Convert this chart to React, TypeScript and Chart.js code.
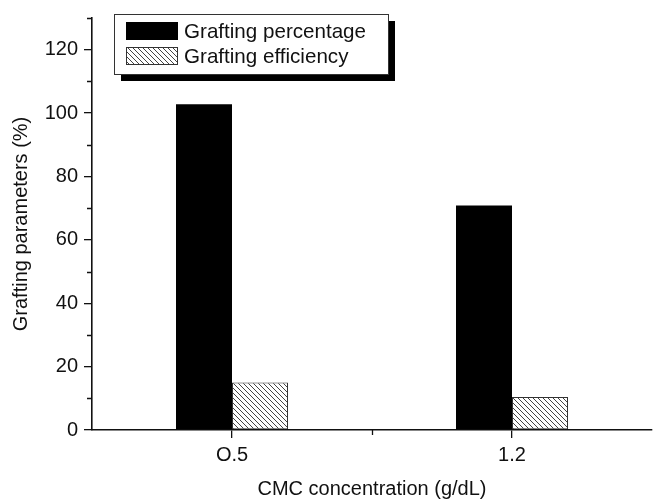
import React, { useEffect, useRef } from 'react';
import { Chart, registerables } from 'chart.js';

Chart.register(...registerables);

const categories = ['O.5', '1.2'];
const seriesLabels = ['Grafting percentage', 'Grafting efficiency'];
const graftingPercentage = [102.8, 70.8];
const graftingEfficiency = [15.0, 10.4];
const yMajorTicks = [0, 20, 40, 60, 80, 100, 120];
const yMinorTicks = [10, 30, 50, 70, 90, 110, 130];
const xTitle = 'CMC concentration (g/dL)';
const yTitle = 'Grafting parameters (%)';

const FONT = "'Liberation Sans', Arial, sans-serif";
const INK = '#111';

function makeHatch(): CanvasPattern | string {
  const c = document.createElement('canvas');
  const s = 5;
  c.width = s;
  c.height = s;
  const g = c.getContext('2d');
  if (!g) return '#888';
  g.fillStyle = '#fff';
  g.fillRect(0, 0, s, s);
  g.strokeStyle = '#444';
  g.lineWidth = 1;
  g.beginPath();
  g.moveTo(-1, -1);
  g.lineTo(s + 1, s + 1);
  g.moveTo(-1, s - 1);
  g.lineTo(1, s + 1);
  g.moveTo(s - 1, -1);
  g.lineTo(s + 1, 1);
  g.stroke();
  const p = g.createPattern(c, 'repeat');
  return p || '#888';
}

export default function App() {
  const ref = useRef<HTMLCanvasElement | null>(null);

  useEffect(() => {
    const canvas = ref.current;
    if (!canvas) return;
    const hatch = makeHatch();

    const bgPlugin = {
      id: 'bg',
      beforeDraw(chart: any) {
        const ctx = chart.ctx;
        ctx.save();
        ctx.fillStyle = '#fff';
        ctx.fillRect(0, 0, chart.width, chart.height);
        ctx.restore();
      },
    };

    const extrasPlugin = {
      id: 'extras',
      afterDraw(chart: any) {
        const ctx = chart.ctx;
        const ys = chart.scales.y;
        const xs = chart.scales.x;
        const area = chart.chartArea;
        ctx.save();
        ctx.strokeStyle = INK;
        ctx.lineWidth = 1.3;
        // minor y ticks
        ctx.beginPath();
        yMinorTicks.forEach((v) => {
          const y = Math.round(ys.getPixelForValue(v)) + 0.5;
          ctx.moveTo(area.left - 5, y);
          ctx.lineTo(area.left, y);
        });
        // minor x tick between categories
        for (let i = 0; i < categories.length - 1; i++) {
          const x = (xs.getPixelForValue(i) + xs.getPixelForValue(i + 1)) / 2;
          ctx.moveTo(Math.round(x) + 0.5, area.bottom);
          ctx.lineTo(Math.round(x) + 0.5, area.bottom + 5);
        }
        ctx.stroke();

        // legend
        const bx = 114, by = 14, bw = 274, bh = 60, sh = 7;
        ctx.fillStyle = '#000';
        ctx.fillRect(bx + sh, by + sh, bw, bh);
        ctx.fillStyle = '#fff';
        ctx.fillRect(bx, by, bw, bh);
        ctx.strokeStyle = '#333';
        ctx.lineWidth = 1;
        ctx.strokeRect(bx + 0.5, by + 0.5, bw, bh);

        const ds = chart.data.datasets;
        const rows = [22, 47];
        ds.forEach((d: any, i: number) => {
          const sy = rows[i];
          ctx.fillStyle = d.backgroundColor;
          ctx.fillRect(126, sy, 52, 18);
          if (d.borderWidth) {
            ctx.strokeStyle = '#333';
            ctx.lineWidth = 1;
            ctx.strokeRect(126.5, sy + 0.5, 51, 17);
          }
          ctx.fillStyle = INK;
          ctx.font = `20.6px ${FONT}`;
          ctx.textBaseline = 'middle';
          ctx.textAlign = 'left';
          ctx.fillText(d.label, 184, sy + 10);
        });
        ctx.restore();
      },
    };

    const chart = new Chart(canvas, {
      type: 'bar',
      data: {
        labels: categories,
        datasets: [
          {
            label: seriesLabels[0],
            data: graftingPercentage,
            backgroundColor: '#000',
            borderWidth: 0,
            barPercentage: 1,
            categoryPercentage: 0.4,
          },
          {
            label: seriesLabels[1],
            data: graftingEfficiency,
            backgroundColor: hatch as any,
            borderColor: '#333',
            borderWidth: 1,
            borderSkipped: false,
            barPercentage: 1,
            categoryPercentage: 0.4,
          },
        ],
      },
      options: {
        animation: false,
        responsive: false,
        maintainAspectRatio: false,
        devicePixelRatio: 1,
        layout: { padding: { top: 13, right: 2, left: 0, bottom: 0 } },
        plugins: {
          legend: { display: false },
          tooltip: { enabled: false },
        },
        scales: {
          x: {
            type: 'category',
            offset: true,
            grid: {
              offset: false,
              drawOnChartArea: false,
              tickLength: 8,
              color: INK,
              lineWidth: 1.3,
            },
            border: { display: true, color: INK, width: 1.6 },
            ticks: {
              color: INK,
              padding: 5,
              font: { family: FONT, size: 20 },
            },
            title: {
              display: true,
              text: xTitle,
              color: INK,
              font: { family: FONT, size: 20, lineHeight: 1 },
              padding: { top: 0, bottom: 0 },
            },
            afterFit(scale: any) {
              scale.height = 69;
            },
          },
          y: {
            min: 0,
            max: 130,
            ticks: {
              stepSize: 20,
              color: INK,
              padding: 6,
              font: { family: FONT, size: 20 },
            },
            afterBuildTicks(scale: any) {
              scale.ticks = yMajorTicks.map((v) => ({ value: v }));
            },
            grid: {
              drawOnChartArea: false,
              tickLength: 8,
              color: INK,
              lineWidth: 1.3,
            },
            border: { display: true, color: INK, width: 1.6 },
            title: {
              display: true,
              text: yTitle,
              color: INK,
              font: { family: FONT, size: 20, lineHeight: 1.2 },
              padding: { top: 9, bottom: 0 },
            },
            afterFit(scale: any) {
              scale.width = 92;
            },
          },
        },
      },
      plugins: [bgPlugin, extrasPlugin],
    } as any);

    return () => {
      chart.destroy();
    };
  }, []);

  return (
    <div style={{ position: 'absolute', left: 0, top: 0, width: 654, height: 499, background: '#fff' }}>
      <canvas ref={ref} width={654} height={499} style={{ width: 654, height: 499, display: 'block' }} />
    </div>
  );
}
